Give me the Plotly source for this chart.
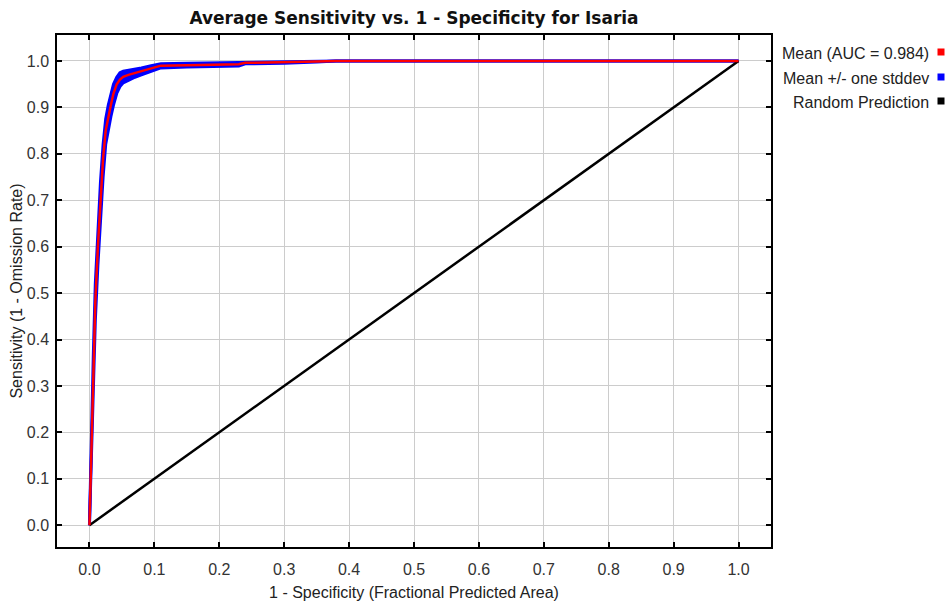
import plotly.graph_objects as go

# ---- data ----
fpr = [0, 0.003, 0.006, 0.009, 0.013, 0.017, 0.021, 0.025, 0.029, 0.033, 0.037, 0.042, 0.047,
       0.052, 0.06, 0.07, 0.08, 0.095, 0.11, 0.15, 0.2, 0.23, 0.24, 0.3, 0.35, 0.38, 1.0]
mean_tpr = [0, 0.17, 0.33, 0.48, 0.6, 0.7, 0.79, 0.85, 0.88, 0.905, 0.93, 0.95, 0.96,
            0.966, 0.97, 0.974, 0.978, 0.985, 0.99, 0.991, 0.992, 0.993, 0.996, 0.997, 0.999, 1.0, 1.0]
upper_tpr = [0, 0.2, 0.37, 0.52, 0.64, 0.74, 0.82, 0.875, 0.905, 0.93, 0.95, 0.965, 0.975,
             0.978, 0.98, 0.982, 0.985, 0.99, 0.994, 0.995, 0.996, 0.997, 0.998, 0.999, 1.0, 1.0, 1.0]
lower_tpr = [0, 0.14, 0.29, 0.44, 0.56, 0.66, 0.75, 0.82, 0.855, 0.88, 0.905, 0.93, 0.945,
             0.953, 0.958, 0.965, 0.97, 0.978, 0.985, 0.987, 0.988, 0.989, 0.994, 0.995, 0.998, 1.0, 1.0]
random_x = [0, 1]
random_y = [0, 1]

x_ticks = [0.0, 0.1, 0.2, 0.3, 0.4, 0.5, 0.6, 0.7, 0.8, 0.9, 1.0]
y_ticks = [0.0, 0.1, 0.2, 0.3, 0.4, 0.5, 0.6, 0.7, 0.8, 0.9, 1.0]

legend_labels = ["Mean (AUC = 0.984)", "Mean +/- one stddev", "Random Prediction"]
legend_colors = ["#ff0000", "#0000ff", "#000000"]

title = "Average Sensitivity vs. 1 - Specificity for Isaria"
x_title = "1 - Specificity (Fractional Predicted Area)"
y_title = "Sensitivity (1 - Omission Rate)"

FONT = "Arial, 'Liberation Sans', sans-serif"
TITLE_FONT = "'DejaVu Sans', Verdana, sans-serif"

fig = go.Figure()
fig.add_trace(go.Scatter(x=fpr, y=lower_tpr, mode="lines",
                         line=dict(color="#0000ff", width=3), showlegend=False))
fig.add_trace(go.Scatter(x=fpr, y=upper_tpr, mode="lines", fill="tonexty",
                         fillcolor="#0000ff",
                         line=dict(color="#0000ff", width=3), showlegend=False))
fig.add_trace(go.Scatter(x=random_x, y=random_y, mode="lines",
                         line=dict(color="#000000", width=2.5), showlegend=False))
fig.add_trace(go.Scatter(x=fpr, y=mean_tpr, mode="lines",
                         line=dict(color="#ff0000", width=2.5), showlegend=False))

W, H = 952, 601
L, R, T, B = 57, 771, 35, 547

def px_to_paper(px, py):
    return (px - L) / (R - L), (B - py) / (B - T)

annotations = []
legend_y = [53, 78, 102]
for lab, col, py in zip(legend_labels, legend_colors, legend_y):
    ax, ay = px_to_paper(931, py)
    annotations.append(dict(x=ax, y=ay, xref="paper", yref="paper", text=lab,
                            showarrow=False, xanchor="right", yanchor="middle",
                            font=dict(family=FONT, size=16, color="#222222")))
    sx, sy = px_to_paper(941, py - 1)
    annotations.append(dict(x=sx, y=sy, xref="paper", yref="paper", text="",
                            showarrow=False, xanchor="center", yanchor="middle",
                            width=6, height=6, bgcolor=col, borderpad=0,
                            font=dict(size=1)))

axis_common = dict(showline=True, linecolor="#000000", linewidth=1.5, mirror="ticks",
                   ticks="inside", ticklen=5, tickwidth=1.5, tickcolor="#000000",
                   showgrid=True, gridcolor="#cccccc", gridwidth=1, zeroline=False,
                   tickfont=dict(family=FONT, size=16, color="#333333"))

fig.update_layout(
    width=W, height=H,
    margin=dict(l=L, r=W - R, t=T, b=H - B, autoexpand=False),
    paper_bgcolor="white", plot_bgcolor="white",
    title=dict(text="<b>" + title + "</b>", x=(L + R) / 2 / W, xanchor="center",
               y=1 - 18 / H, yanchor="middle",
               font=dict(family=TITLE_FONT, size=17, color="#111111")),
    xaxis=dict(range=[-0.05, 1.05], tickvals=x_ticks, ticktext=[f"{v:.1f}" for v in x_ticks],
               ticklabelstandoff=7,
               title=dict(text=x_title, standoff=10, font=dict(family=FONT, size=16, color="#222222")),
               **axis_common),
    yaxis=dict(range=[-0.047, 1.056], tickvals=y_ticks, ticktext=[f"{v:.1f}" for v in y_ticks],
               ticklabelstandoff=3,
               title=dict(text=y_title, standoff=0, font=dict(family=FONT, size=16, color="#222222")),
               **axis_common),
    annotations=annotations, showlegend=False,
)

fig.write_html("out.html", config={"displayModeBar": False},
               post_script="document.body.style.margin='0';document.body.style.overflow='hidden';")
